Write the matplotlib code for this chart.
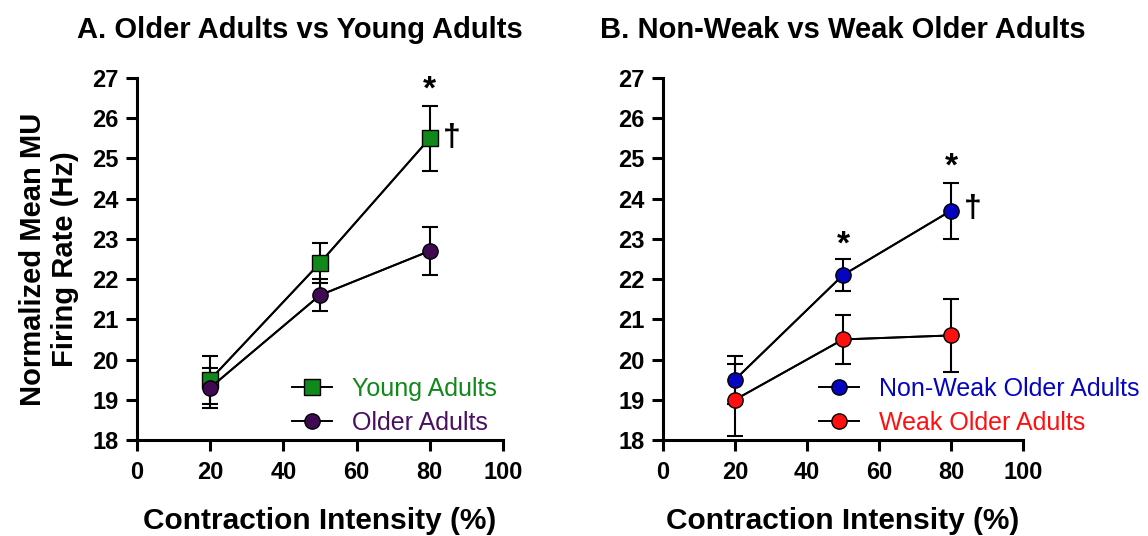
import matplotlib.pyplot as plt

plt.rcParams['font.family'] = ['Liberation Sans', 'DejaVu Sans']
plt.rcParams['font.weight'] = 'bold'

intensity = [20, 50, 80]

young_mean = [19.5, 22.4, 25.5]
young_err = [0.6, 0.5, 0.8]
older_mean = [19.3, 21.6, 22.7]
older_err = [0.5, 0.4, 0.6]

nonweak_mean = [19.5, 22.1, 23.7]
nonweak_err = [0.6, 0.4, 0.7]
weak_mean = [19.0, 20.5, 20.6]
weak_err = [0.9, 0.6, 0.9]

x_ticks = [0, 20, 40, 60, 80, 100]
y_ticks = list(range(18, 28))


def style_axes(ax):
    ax.set_xlim(0, 100)
    ax.set_ylim(18, 27)
    ax.set_xticks(x_ticks)
    ax.set_yticks(y_ticks)
    ax.spines['top'].set_visible(False)
    ax.spines['right'].set_visible(False)
    ax.spines['left'].set_linewidth(2.2)
    ax.spines['bottom'].set_linewidth(2.2)
    ax.tick_params(axis='y', width=2.2, length=8, labelsize=17, pad=5)
    ax.tick_params(axis='x', width=2.2, length=8, labelsize=17, pad=7)
    for lab in ax.get_xticklabels() + ax.get_yticklabels():
        lab.set_fontweight('bold')
    ax.set_xlabel('Contraction Intensity (%)', fontsize=21.5, fontweight='bold', labelpad=17)


def series(ax, y, err, marker, color, label, ms):
    ax.errorbar(intensity, y, yerr=err, fmt='-', color='black', lw=1.4,
                elinewidth=1.5, capsize=6, capthick=1.5, zorder=2, clip_on=False)
    ax.plot(intensity, y, marker=marker, ls='-', color='black', lw=1.4,
            markerfacecolor=color, markeredgecolor='black', markeredgewidth=1,
            markersize=ms, label=label, zorder=3, clip_on=False)


fig = plt.figure(figsize=(11.48, 5.36), dpi=100)
ax1 = fig.add_axes([0.1193, 0.1791, 0.3188, 0.6754])
ax2 = fig.add_axes([0.5775, 0.1791, 0.3136, 0.6754])

series(ax1, young_mean, young_err, 's', '#11881a', 'Young Adults', 11)
series(ax1, older_mean, older_err, 'o', '#3f0a52', 'Older Adults', 11)
style_axes(ax1)
ax1.set_title('A. Older Adults vs Young Adults', fontsize=21, fontweight='bold', pad=29, x=0.445)
ax1.set_ylabel('Normalized Mean MU\nFiring Rate (Hz)', fontsize=21, fontweight='bold', labelpad=10,
               linespacing=1.15)
leg1 = ax1.legend(loc='lower left', frameon=False, fontsize=18, handlelength=1.6,
                  handletextpad=0.8, borderaxespad=0, borderpad=0.2, labelspacing=0.4,
                  bbox_to_anchor=(0.41, 0.0))
for t, c in zip(leg1.get_texts(), ['#11881a', '#4a1060']):
    t.set_color(c)
    t.set_fontweight('normal')
ax1.text(80, 26.70, '*', ha='center', va='center', fontsize=24, fontweight='bold')
ax1.text(86, 25.5, '†', ha='center', va='center', fontsize=23, fontweight='bold')

series(ax2, nonweak_mean, nonweak_err, 'o', '#0505c0', 'Non-Weak Older Adults', 11)
series(ax2, weak_mean, weak_err, 'o', '#ff1010', 'Weak Older Adults', 11)
style_axes(ax2)
ax2.set_title('B. Non-Weak vs Weak Older Adults', fontsize=21, fontweight='bold', pad=29)
leg2 = ax2.legend(loc='lower left', frameon=False, fontsize=18, handlelength=1.6,
                  handletextpad=0.8, borderaxespad=0, borderpad=0.2, labelspacing=0.4,
                  bbox_to_anchor=(0.42, 0.0))
for t, c in zip(leg2.get_texts(), ['#0505c0', '#ff1010']):
    t.set_color(c)
    t.set_fontweight('normal')
ax2.text(50, 22.85, '*', ha='center', va='center', fontsize=24, fontweight='bold')
ax2.text(80, 24.79, '*', ha='center', va='center', fontsize=24, fontweight='bold')
ax2.text(86, 23.75, '†', ha='center', va='center', fontsize=23, fontweight='bold')

fig.savefig('out.png', dpi=100)
